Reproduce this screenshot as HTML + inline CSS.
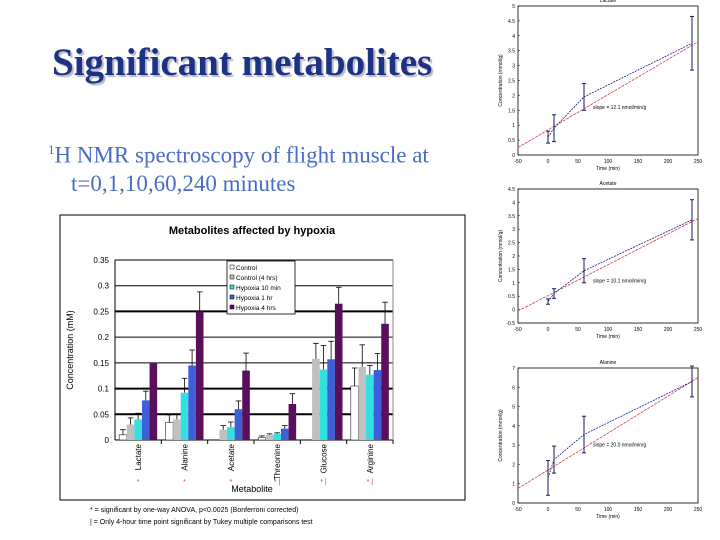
<!DOCTYPE html>
<html><head><meta charset="utf-8"><style>
body{margin:0;background:#fff;width:720px;height:540px;overflow:hidden;position:relative;font-family:"Liberation Sans",sans-serif}
.t{position:absolute;left:52px;top:40px;font:bold 39px "Liberation Serif",serif;color:#1c3384;text-shadow:2px 2px 1px #b8b8c8;white-space:nowrap}
.s{position:absolute;left:48px;top:136px;font:23px "Liberation Serif",serif;color:#4a6cc4;line-height:28px;white-space:nowrap}
svg{position:absolute;left:0;top:0}
</style></head><body>
<div class="t">Significant metabolites</div>
<div class="s"><sup style="font-size:13px">1</sup>H NMR spectroscopy of flight muscle at<br>&nbsp;&nbsp;&nbsp;&nbsp;t=0,1,10,60,240 minutes</div>
<svg id="c" width="720" height="540"></svg>
<script>
const cats=["Lactate","Alanine","Acetate","Threonine","Glucose","Arginine"];
const series=["Control","Control (4 hrs)","Hypoxia 10 min","Hypoxia 1 hr","Hypoxia 4 hrs"];
const colors=["#ffffff","#c0c0c0","#33e0e0","#3f5fd8","#5a0f5a"];
const vals=[[0.01,0.03,0.04,0.077,0.15],[0.034,0.04,0.092,0.145,0.25],[0,0.02,0.025,0.06,0.135],[0.005,0.01,0.012,0.022,0.07],[0,0.158,0.137,0.157,0.265],[0.105,0.142,0.127,0.136,0.226]];
const errs=[[0.01,0.013,0.012,0.018,0],[0.015,0.01,0.028,0.03,0.038],[0,0.008,0.01,0.016,0.034],[0.003,0.002,0.002,0.006,0.02],[0,0.03,0.047,0.035,0.032],[0.035,0.043,0.018,0.032,0.042]];
const yTicks=["0","0.05","0.1","0.15","0.2","0.25","0.3","0.35"];
const yTickVals=[0,0.05,0.1,0.15,0.2,0.25,0.3,0.35];
const svg=document.getElementById('c');const NS="http://www.w3.org/2000/svg";
function el(t,a,txt){const e=document.createElementNS(NS,t);for(const k in a)e.setAttribute(k,a[k]);if(txt!==undefined)e.textContent=txt;svg.appendChild(e);return e;}
const X0=115,X1=393,Y0=440,Y1=260;
const ys=v=>Y0-(v/0.35)*(Y0-Y1);
let e=el('rect',{x:60,y:215,width:405,height:285,fill:'#fff',stroke:'#000','stroke-width':1});


e=el('text',{x:252,y:234,'font-size':11,'font-weight':'bold','text-anchor':'middle'},'Metabolites affected by hypoxia');


yTickVals.forEach((v,i)=>{
 if(v>0){const thick=(v===0.05||v===0.1||v===0.25);
 e=el('line',{x1:X0,x2:X1,y1:ys(v),y2:ys(v),stroke:'#000','stroke-width':thick?2:1});
 
 }
 e=el('text',{x:X0-6,y:ys(v)+3,'font-size':8,'text-anchor':'end'},yTicks[i]);
 
 
});
el('line',{x1:X0,x2:X0,y1:Y1,y2:Y0,stroke:'#000'});
el('line',{x1:X0,x2:X1,y1:Y0,y2:Y0,stroke:'#000'});
el('line',{x1:X1,x2:X1,y1:Y1,y2:Y0,stroke:'#888'});
const gw=(X1-X0)/cats.length,bw=7.6;
cats.forEach((c,gi)=>{
 const gx=X0+gi*gw+(gw-5*bw)/2;
 vals[gi].forEach((v,si)=>{
  const x=gx+si*bw;
  e=el('rect',{x:x,y:ys(v),width:bw,height:Y0-ys(v),fill:colors[si],stroke:si===0?'#000':'none','stroke-width':0.5});
  
  
  const er=errs[gi][si];
  if(er>0){el('line',{x1:x+bw/2,x2:x+bw/2,y1:ys(v),y2:ys(v+er),stroke:'#000','stroke-width':0.8});
   el('line',{x1:x+1,x2:x+bw-1,y1:ys(v+er),y2:ys(v+er),stroke:'#000','stroke-width':0.8});}
 });
 el('line',{x1:X0+(gi+1)*gw,x2:X0+(gi+1)*gw,y1:Y0,y2:Y0+4,stroke:'#000'});
 const cx=X0+gi*gw+gw/2;
 e=el('text',{x:cx+3,y:Y0+4,'font-size':8,'text-anchor':'end',transform:`rotate(-90 ${cx+3} ${Y0+4})`},c);
 
 
 el('text',{x:cx,y:Y0+44,'font-size':7,fill:'#d04040','text-anchor':'middle'},gi<3?'*':'* |');
});
e=el('text',{x:252,y:492,'font-size':9,'text-anchor':'middle'},'Metabolite');


e=el('text',{x:73,y:350,'font-size':9,'text-anchor':'middle',transform:'rotate(-90 73 350)'},'Concentration (mM)');


// legend
el('rect',{x:227,y:261,width:68,height:53,fill:'#fff',stroke:'#000','stroke-width':0.8});
series.forEach((s,i)=>{
 el('rect',{x:230,y:265+i*10,width:4,height:4,fill:colors[i],stroke:'#000','stroke-width':0.5});
 e=el('text',{x:236,y:270+i*10,'font-size':6.5},s);
 
 
});
el('text',{x:90,y:512,'font-size':7},'* = significant by one-way ANOVA, p<0.0025 (Bonferroni corrected)');
el('text',{x:90,y:524,'font-size':7},'| = Only 4-hour time point significant by Tukey multiple comparisons test');
// right panels
const times=[0,10,60,240];
const panelNames=["Lactate","Acetate","Alanine"];
const pVals=[[0.6,0.9,1.95,3.75],[0.3,0.6,1.45,3.35],[1.3,2.25,3.55,6.3]];
const pErr=[[0.2,0.45,0.45,0.9],[0.1,0.18,0.45,0.75],[0.9,0.7,0.95,0.8]];
const pFit=[[0.25,3.8],[-0.05,3.4],[0.75,6.5]];
const pYmin=[0,-0.5,0];
const pYmax=[5,4.5,7];
const pYstep=[0.5,0.5,1];
const boxes=[[518,6,698,155],[518,189,698,323],[518,368,698,503]];
boxes.forEach((b,p)=>{
 const xs=t=>b[0]+(t+50)/300*(b[2]-b[0]);
 const yp=v=>b[3]-(v-pYmin[p])/(pYmax[p]-pYmin[p])*(b[3]-b[1]);
 e=el('rect',{x:b[0],y:b[1],width:b[2]-b[0],height:b[3]-b[1],fill:'none',stroke:'#000','stroke-width':0.8});
 
 
 el('text',{x:(b[0]+b[2])/2,y:b[1]-4,'font-size':5,'text-anchor':'middle'},panelNames[p]);
 [-50,0,50,100,150,200,250].forEach(t=>el('text',{x:xs(t),y:b[3]+8,'font-size':5,'text-anchor':'middle'},t));
 for(let v=pYmin[p];v<=pYmax[p]+1e-9;v+=pYstep[p]){
  el('text',{x:b[0]-3,y:yp(v)+2,'font-size':5,'text-anchor':'end'},+v.toFixed(1));
  el('line',{x1:b[0],x2:b[0]+2,y1:yp(v),y2:yp(v),stroke:'#000','stroke-width':0.5});
 }
 el('text',{x:(b[0]+b[2])/2,y:b[3]+15,'font-size':5,'text-anchor':'middle'},'Time (min)');
 const yc=(b[1]+b[3])/2;
 el('text',{x:b[0]-16,y:yc,'font-size':5,'text-anchor':'middle',transform:`rotate(-90 ${b[0]-16} ${yc})`},'Concentration (mmol/g)');
 e=el('line',{x1:xs(-50),y1:yp(pFit[p][0]),x2:xs(250),y2:yp(pFit[p][1]),stroke:'#d04050','stroke-width':0.8,'stroke-dasharray':'3 1'});
 
 
 e=el('polyline',{points:times.map((t,i)=>xs(t)+','+yp(pVals[p][i])).join(' '),fill:'none',stroke:'#1a1a80','stroke-width':0.8,'stroke-dasharray':'2 1'});
 
 
 times.forEach((t,i)=>{const x=xs(t),v=pVals[p][i],er=pErr[p][i];
  el('line',{x1:x,x2:x,y1:yp(v-er),y2:yp(v+er),stroke:'#1a1a60','stroke-width':1});
  el('line',{x1:x-2,x2:x+2,y1:yp(v-er),y2:yp(v-er),stroke:'#1a1a60'});
  el('line',{x1:x-2,x2:x+2,y1:yp(v+er),y2:yp(v+er),stroke:'#1a1a60'});
 });
 el('text',{x:xs(75),y:yp(pVals[p][2])+12,'font-size':5},'slope = '+['12.1','10.1','20.0'][p]+' nmol/min/g');
});
</script>
</body></html>
